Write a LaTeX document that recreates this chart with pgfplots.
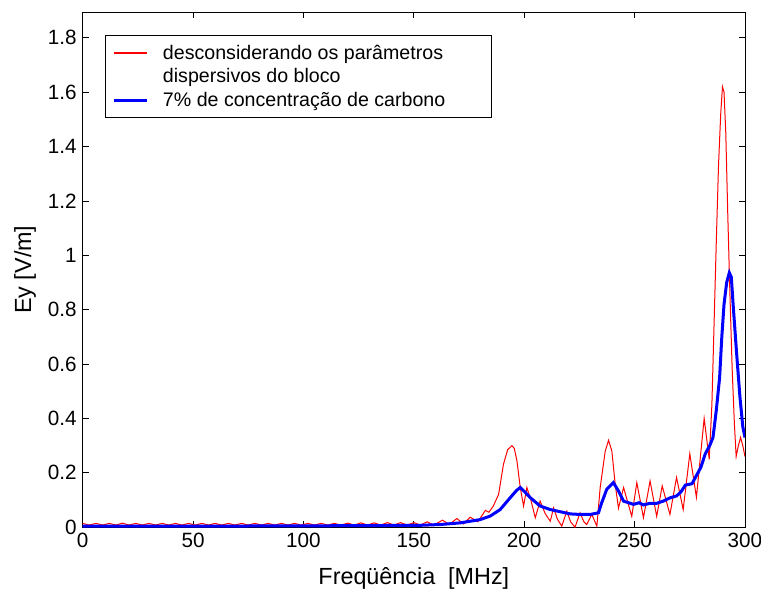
\documentclass[border=0pt]{standalone}
\usepackage{pgfplots}
\pgfplotsset{compat=1.18}
\usepackage{fontspec}
\setmainfont{Liberation Sans}
\usetikzlibrary{calc}
\begin{document}
\begin{tikzpicture}
\begin{axis}[
  scale only axis,
  width=496.5pt, height=386.25pt,
  xmin=0, xmax=300, ymin=0, ymax=1.895,
  xtick={0,50,...,300},
  ytick={0,0.2,0.4,0.6,0.8,1,1.2,1.4,1.6,1.8},
  tick align=inside,
  major tick length=4.5pt,
  tick style={black, line width=0.6pt},
  axis line style={black, line width=0.6pt},
  /pgf/number format/assume math mode=true,
  ticklabel style={font=\fontsize{15.5}{18}\selectfont},
  yticklabel style={xshift=-1pt},
  xticklabel style={yshift=-1pt},
  xlabel={Freqüência\ \ [MHz]},
  ylabel={Ey [V/m]},
  xlabel style={font=\fontsize{17.5}{20}\selectfont, at={(axis description cs:0.5,-0.099)}, anchor=center},
  ylabel style={font=\fontsize{17.5}{20}\selectfont, at={(axis description cs:-0.087,0.5)}, anchor=center, rotate=0},
  legend style={at={(0.033,0.955)}, anchor=north west, line width=0.6pt,
    font=\fontsize{14.7}{18.75}\selectfont, inner xsep=5.5pt, inner ysep=5pt,
    row sep=1.5pt, column sep=9pt},
  legend cell align=left,
  legend image code/.code={\draw[#1] (0cm,0cm) -- (0.87cm,0cm);},
]
\addplot[color=red, line width=0.75pt, forget plot] coordinates {
(0,0.014) (3,0.008) (6,0.014) (9,0.008) (12,0.014) (15,0.008) (18,0.015) (21,0.008) (24,0.014) (27,0.008)
(30,0.014) (33,0.008) (36,0.014) (39,0.008) (42,0.014) (45,0.008) (48,0.014) (51,0.008) (54,0.014) (57,0.008)
(60,0.014) (63,0.008) (66,0.014) (69,0.008) (72,0.014) (75,0.008) (78,0.014) (81,0.008) (84,0.014) (87,0.008)
(90,0.014) (93,0.008) (96,0.014) (99,0.008) (102,0.014) (105,0.008) (108,0.014) (111,0.008) (114,0.014) (117,0.008)
(120,0.015) (123,0.008) (126,0.016) (129,0.008) (132,0.016) (135,0.008) (138,0.017) (141,0.008) (144,0.017) (147,0.008)
(150,0.017) (153,0.008) (156,0.02) (159,0.008) (163,0.026) (166,0.010) (169.5,0.032) (172.5,0.012) (175.5,0.037) (179,0.020)
(182.4,0.062) (184,0.055) (186,0.078) (188.4,0.121) (190.6,0.232) (192.5,0.285) (194.4,0.300) (195.5,0.290) (196.7,0.244) (198.2,0.146)
(199.7,0.078) (201.2,0.146) (203,0.10) (205,0.035) (207.2,0.096) (209.5,0.05) (211.8,0.022) (213.3,0.071) (215,0.03) (217,0.004)
(219.3,0.059) (221,0.02) (223,0.0) (225.3,0.053) (227,0.02) (228.3,0.01) (230.6,0.047) (232.9,0.004) (234.4,0.146) (236.7,0.28)
(238.2,0.32) (239.7,0.28) (241.2,0.158) (242.7,0.07) (245,0.146) (248.7,0.04) (251,0.164) (254,0.035) (257,0.17) (260,0.04)
(262.5,0.152) (266,0.047) (269,0.183) (272,0.065) (275,0.27) (278,0.11) (281.5,0.40) (283.8,0.25) (285,0.45) (286,0.75)
(287,1.05) (288,1.33) (289,1.52) (289.8,1.62) (290.5,1.60) (291.3,1.45) (292.2,1.15) (293.2,0.85) (294.2,0.58) (295.2,0.38)
(296,0.26) (297,0.30) (298,0.33) (299,0.30) (300,0.26)
};
\addplot[color=blue, line width=2.25pt, forget plot] coordinates {
(0,0.004) (50,0.004) (100,0.005) (130,0.006) (153,0.007) (162,0.010) (171,0.016) (180,0.028) (184.6,0.041) (189.1,0.065)
(193.7,0.109) (196.5,0.135) (198.2,0.146) (200.5,0.128) (202.7,0.109) (207.2,0.078) (211.8,0.065) (216.3,0.057) (220.8,0.049) (225.3,0.047)
(229.9,0.047) (233.6,0.053) (235.1,0.09) (237.4,0.14) (240.4,0.164) (242.7,0.133) (245,0.096) (249.5,0.084) (252,0.09) (254,0.082)
(257,0.088) (260,0.088) (263,0.096) (266,0.108) (269,0.115) (271,0.13) (273,0.155) (276,0.16) (278,0.19) (280,0.22)
(282,0.27) (284,0.30) (285.5,0.33) (287,0.43) (288.5,0.55) (289.5,0.70) (290.5,0.82) (291.7,0.90) (292.9,0.936) (293.8,0.92)
(294.7,0.81) (296.2,0.64) (297.7,0.48) (299,0.37) (300,0.33)
};
\addlegendimage{draw=red, line width=0.9pt}
\addlegendentry{desconsiderando os parâmetros\hspace*{29pt}}
\addlegendimage{empty legend}
\addlegendentry{dispersivos do bloco}
\addlegendimage{draw=blue, line width=2.25pt}
\addlegendentry{7\% de concentração de carbono}
\end{axis}
\pgfresetboundingbox
\path[use as bounding box] ($(current axis.south west)+(-62pt,-50.25pt)$) rectangle ($(current axis.north east)+(12pt,9pt)$);
\end{tikzpicture}
\end{document}
